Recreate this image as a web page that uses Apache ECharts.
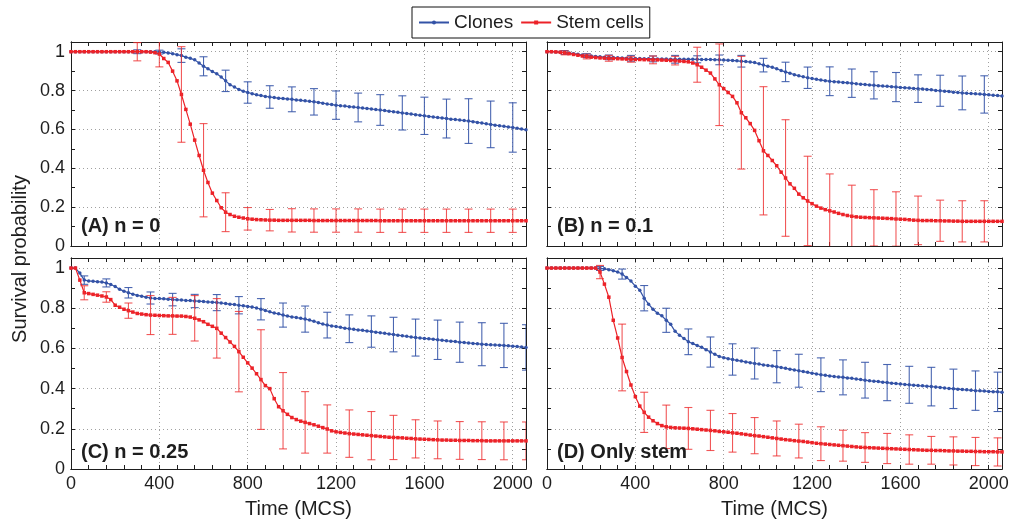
<!DOCTYPE html>
<html>
<head>
<meta charset="utf-8">
<script src="https://cdn.jsdelivr.net/npm/echarts@6/dist/echarts.min.js"></script>
<style>html,body{margin:0;padding:0;background:#fff}#c{width:1012px;height:520px}</style>
</head>
<body>
<div id="c"></div>
<script>
// ---------------- DATA ----------------
const TIME = [
0,20,40,60,80,100,120,140,160,180,
200,220,240,260,280,300,320,340,360,380,
400,420,440,460,480,500,520,540,560,580,
600,620,640,660,680,700,720,740,760,780,
800,820,840,860,880,900,920,940,960,980,
1000,1020,1040,1060,1080,1100,1120,1140,1160,1180,
1200,1220,1240,1260,1280,1300,1320,1340,1360,1380,
1400,1420,1440,1460,1480,1500,1520,1540,1560,1580,
1600,1620,1640,1660,1680,1700,1720,1740,1760,1780,
1800,1820,1840,1860,1880,1900,1920,1940,1960,1980,
2000,2020,2040,2060];

const X_TICKS = [0,400,800,1200,1600,2000];
const Y_TICKS = [0,0.2,0.4,0.6,0.8,1];

// (A) n = 0
const A_CLONES = [
1,1,1,1,1,1,1,1,1,1,
1,1,1,1,1,1,1,1,1,1,
.998,.997,.994,.99,.985,.98,.972,.966,.958,.942,
.925,.912,.898,.886,.87,.85,.83,.818,.806,.797,
.79,.784,.778,.774,.77,.767,.764,.761,.759,.757,
.755,.752,.75,.747,.745,.742,.739,.735,.731,.728,
.725,.722,.72,.717,.715,.713,.71,.708,.705,.702,
.7,.697,.694,.691,.688,.685,.682,.679,.676,.673,
.67,.667,.664,.661,.659,.656,.653,.651,.648,.646,
.643,.64,.636,.633,.629,.626,.622,.619,.616,.613,
.61,.606,.602,.598];
const A_STEM = [
1,1,1,1,1,1,1,1,1,1,
1,1,1,1,1,1,1,1,.998,.995,
.988,.965,.945,.9,.85,.78,.703,.627,.545,.466,
.39,.327,.272,.234,.197,.174,.162,.153,.148,.144,
.14,.138,.136,.135,.134,.133,.133,.132,.132,.132,
.132,.132,.132,.132,.132,.131,.131,.131,.131,.131,
.131,.131,.131,.131,.131,.131,.131,.131,.131,.131,
.13,.13,.13,.13,.13,.13,.13,.13,.13,.13,
.13,.13,.13,.13,.13,.13,.13,.13,.13,.13,
.13,.13,.13,.13,.13,.13,.13,.13,.13,.13,
.13,.13,.13,.13];
const A_ERR_X = [0,100,200,300,400,500,600,700,800,900,1000,1100,1200,1300,1400,1500,1600,1700,1800,1900,2000];
const A_CLONES_ERR = [0,0,0,.01,.01,.035,.049,.055,.055,.058,.064,.068,.073,.074,.079,.088,.096,.1,.115,.12,.127];
const A_STEM_ERR = [0,0,0,.047,.066,.246,.24,.1,.058,.055,.06,.06,.06,.06,.06,.06,.06,.06,.06,.06,.06];

// (B) n = 0.1
const B_CLONES = [
1,1,.999,.998,.996,.993,.99,.987,.983,.98,
.978,.976,.974,.972,.971,.97,.969,.968,.967,.966,
.965,.965,.964,.964,.963,.963,.962,.962,.961,.961,
.961,.961,.961,.961,.961,.96,.96,.96,.959,.958,
.957,.956,.955,.953,.951,.949,.947,.944,.938,.931,
.925,.92,.912,.903,.896,.889,.882,.876,.871,.866,
.862,.858,.854,.851,.848,.846,.844,.842,.84,.838,
.835,.833,.831,.829,.827,.825,.823,.822,.82,.818,
.816,.815,.813,.811,.81,.808,.806,.804,.801,.799,
.797,.795,.792,.79,.788,.786,.785,.783,.782,.78,
.778,.776,.774,.772];
const B_STEM = [
1,1,.999,.997,.994,.99,.986,.982,.978,.975,
.972,.97,.968,.967,.966,.965,.964,.963,.962,.961,
.96,.96,.959,.959,.958,.958,.957,.956,.955,.954,
.952,.95,.948,.942,.933,.92,.905,.89,.86,.83,
.81,.79,.77,.737,.686,.66,.63,.595,.542,.49,
.466,.44,.413,.38,.35,.32,.297,.267,.248,.232,
.218,.205,.195,.187,.181,.175,.168,.162,.157,.153,
.15,.148,.147,.146,.145,.144,.143,.142,.141,.139,
.138,.137,.135,.133,.132,.131,.131,.131,.13,.13,
.129,.129,.128,.128,.127,.127,.127,.127,.127,.127,
.127,.127,.127,.127];
const B_ERR_X = [80,180,280,380,480,580,680,780,880,980,1080,1180,1280,1380,1480,1580,1680,1780,1880,1980];
const B_CLONES_ERR = [.01,.01,.012,.015,.015,.02,.018,.025,.03,.035,.05,.055,.074,.073,.07,.075,.071,.08,.087,.096];
const B_STEM_ERR = [.01,.012,.015,.015,.02,.022,.09,.21,.29,.33,.3,.23,.19,.16,.145,.14,.125,.106,.106,.106];

// (C) n = 0.25
const C_CLONES = [
1,1,.975,.94,.936,.934,.932,.93,.926,.918,
.908,.894,.885,.877,.87,.864,.86,.855,.851,.849,
.848,.847,.845,.843,.842,.841,.839,.838,.836,.835,
.833,.831,.83,.828,.826,.823,.82,.818,.815,.812,
.809,.806,.801,.795,.789,.782,.776,.772,.766,.761,
.757,.754,.75,.746,.741,.735,.728,.721,.716,.712,
.709,.705,.701,.698,.695,.692,.69,.687,.684,.681,
.678,.675,.672,.669,.666,.663,.66,.657,.654,.652,
.65,.648,.646,.643,.641,.638,.636,.634,.631,.629,
.627,.625,.623,.621,.619,.618,.617,.616,.615,.613,
.611,.609,.607,.605];
const C_STEM = [
1,1,.94,.877,.873,.869,.865,.861,.856,.843,
.815,.805,.795,.788,.781,.774,.771,.768,.766,.765,
.764,.763,.762,.762,.761,.761,.759,.756,.75,.742,
.733,.72,.71,.70,.676,.654,.632,.61,.584,.556,
.528,.502,.474,.445,.415,.40,.35,.31,.29,.272,
.256,.246,.238,.232,.226,.22,.213,.206,.199,.19,
.185,.182,.179,.176,.174,.172,.17,.168,.166,.164,
.162,.16,.158,.157,.156,.155,.153,.152,.15,.149,
.148,.147,.146,.145,.144,.144,.143,.143,.142,.142,
.142,.141,.141,.141,.14,.14,.14,.14,.14,.14,
.14,.14,.14,.14];
const C_ERR_X = [60,160,260,360,460,560,660,760,860,960,1060,1160,1260,1360,1460,1560,1660,1760,1860,1960,2060];
const C_CLONES_ERR = [.021,.02,.026,.03,.031,.033,.04,.043,.053,.06,.065,.064,.069,.078,.086,.092,.098,.1,.107,.11,.113];
const C_STEM_ERR = [.035,.026,.038,.097,.092,.113,.148,.2,.248,.19,.153,.12,.118,.12,.11,.095,.094,.094,.094,.094,.094];

// (D) Only stem
const D_CLONES = [
1,1,1,1,1,1,1,1,1,1,
1,1,.998,.996,.992,.987,.98,.97,.953,.935,
.91,.89,.85,.82,.795,.775,.762,.74,.72,.685,
.666,.65,.633,.624,.615,.606,.594,.582,.571,.56,
.554,.549,.545,.541,.537,.533,.529,.525,.522,.518,
.515,.512,.509,.505,.501,.497,.493,.489,.485,.481,
.477,.473,.469,.466,.463,.46,.458,.456,.453,.451,
.448,.445,.442,.439,.437,.435,.432,.43,.427,.425,
.423,.421,.419,.417,.415,.414,.412,.41,.408,.406,
.403,.401,.399,.397,.395,.394,.392,.39,.389,.388,
.386,.385,.384,.382];
const D_STEM = [
1,1,1,1,1,1,1,1,1,1,
1,1,.98,.92,.855,.74,.652,.555,.485,.418,
.36,.313,.282,.258,.24,.226,.216,.21,.207,.205,
.204,.203,.202,.2,.198,.196,.194,.192,.19,.187,
.185,.183,.18,.178,.175,.172,.169,.166,.164,.161,
.158,.155,.152,.149,.146,.144,.141,.139,.137,.134,
.131,.128,.126,.124,.122,.12,.118,.116,.114,.112,
.11,.108,.107,.106,.105,.104,.103,.102,.101,.1,
.099,.098,.097,.096,.095,.094,.093,.093,.092,.092,
.091,.09,.09,.089,.089,.088,.088,.087,.087,.086,
.086,.086,.085,.085];
const D_ERR_X = [40,140,240,340,440,540,640,740,840,940,1040,1140,1240,1340,1440,1540,1640,1740,1840,1940,2040];
const D_CLONES_ERR = [0,0,.01,.025,.063,.06,.064,.075,.078,.077,.08,.082,.084,.087,.089,.09,.092,.096,.098,.098,.098];
const D_STEM_ERR = [0,0,.033,.166,.1,.108,.104,.1,.096,.09,.087,.084,.084,.077,.074,.075,.073,.069,.07,.07,.07];

const SERIES_NAMES = ['Clones', 'Stem cells'];
const PANEL_LABELS = ['(A) n = 0', '(B) n = 0.1', '(C) n = 0.25', '(D) Only stem'];
const X_NAME = 'Time (MCS)';
const Y_NAME = 'Survival probability';

// ---------------- LAYOUT / STYLE ----------------
const FONT = '"Liberation Sans", Arial, Helvetica, sans-serif';
const INK = '#1e1e1e';
const BLUE = '#3352a6';
const RED = '#ec2228';
const X_MAX = 2060, Y_MAX = 1.05;

const panels = [
  {grid:{left:71, top:42, width:455, height:204}, c:A_CLONES, s:A_STEM, ex:A_ERR_X, ce:A_CLONES_ERR, se:A_STEM_ERR, showX:false, showY:true},
  {grid:{left:547, top:42, width:455, height:204}, c:B_CLONES, s:B_STEM, ex:B_ERR_X, ce:B_CLONES_ERR, se:B_STEM_ERR, showX:false, showY:false},
  {grid:{left:71, top:258, width:455, height:214}, c:C_CLONES, s:C_STEM, ex:C_ERR_X, ce:C_CLONES_ERR, se:C_STEM_ERR, showX:true, showY:true},
  {grid:{left:547, top:258, width:455, height:214}, c:D_CLONES, s:D_STEM, ex:D_ERR_X, ce:D_CLONES_ERR, se:D_STEM_ERR, showX:true, showY:false}
];

const grids = [], xAxes = [], yAxes = [], series = [], graphics = [];
const lineAx = {show:true, onZero:false, lineStyle:{color:INK, width:1}};
const fmtX = v => (X_TICKS.indexOf(v) >= 0 ? String(v) : '');
const fmtY = v => {
  const r = Math.round(v * 10) / 10;
  return Y_TICKS.indexOf(r) >= 0 ? String(r) : '';
};

function errRenderer(color, opacity) {
  return function (params, api) {
    const x = api.value(0), c = api.value(1), e = api.value(2);
    if (!e) return null;
    const t = api.coord([x, c + e]);
    const b = api.coord([x, c - e]);
    const hw = 4;
    const st = {stroke: color, lineWidth: 1.1, opacity: opacity};
    return {type:'group', children:[
      {type:'line', shape:{x1:t[0], y1:t[1], x2:b[0], y2:b[1]}, style:st},
      {type:'line', shape:{x1:t[0]-hw, y1:t[1], x2:t[0]+hw, y2:t[1]}, style:st},
      {type:'line', shape:{x1:b[0]-hw, y1:b[1], x2:b[0]+hw, y2:b[1]}, style:st}
    ]};
  };
}

panels.forEach((p, i) => {
  grids.push(Object.assign({show:true, borderWidth:0, backgroundColor:'#fff'}, p.grid));
  // main x axis: labels + dotted grid
  xAxes.push({type:'value', gridIndex:i, position:'bottom', min:0, max:X_MAX, interval:X_TICKS[1]-X_TICKS[0],
    axisLine:lineAx, axisTick:{show:false},
    axisLabel:{show:p.showX, showMaxLabel:false, formatter:fmtX, fontSize:18, color:INK, fontFamily:FONT, margin:6},
    splitLine:{show:true, lineStyle:{color:'#a0a0a0', width:1, type:[1,3]}},
    name: p.showX ? X_NAME : '', nameLocation:'middle', nameGap:30,
    nameTextStyle:{fontSize:20, color:INK, fontFamily:FONT}});
  // tick axes bottom & top
  ['bottom','top'].forEach(pos => xAxes.push({type:'value', gridIndex:i, position:pos, min:0, max:X_MAX, interval:80,
    axisLine:lineAx, axisTick:{show:true, inside:true, length:4, lineStyle:{color:INK}},
    axisLabel:{show:false}, splitLine:{show:false}}));
  yAxes.push({type:'value', gridIndex:i, position:'left', min:0, max:Y_MAX, interval:Y_TICKS[1]-Y_TICKS[0],
    axisLine:lineAx, axisTick:{show:false},
    axisLabel:{show:p.showY, showMaxLabel:false, formatter:fmtY, fontSize:18, color:INK, fontFamily:FONT, margin:6},
    splitLine:{show:true, lineStyle:{color:'#a0a0a0', width:1, type:[1,3]}}});
  ['left','right'].forEach(pos => yAxes.push({type:'value', gridIndex:i, position:pos, min:0, max:Y_MAX, interval:0.1,
    axisLine:lineAx, axisTick:{show:true, inside:true, length:4, lineStyle:{color:INK}},
    axisLabel:{show:false}, splitLine:{show:false}}));

  const xi = i*3, yi = i*3;
  series.push({type:'line', name:SERIES_NAMES[0], xAxisIndex:xi, yAxisIndex:yi,
    data: TIME.map((t,k)=>[t, p.c[k]]), color:BLUE, symbol:'circle', symbolSize:3.5, showSymbol:true,
    lineStyle:{width:1.2, color:BLUE}, itemStyle:{color:BLUE}, z:2});
  series.push({type:'custom', name:'clones-err', xAxisIndex:xi, yAxisIndex:yi, clip:true, z:3,
    data: p.ex.map((x,k)=>[x, p.c[TIME.indexOf(x)], p.ce[k]]), encode:{x:0, y:1},
    renderItem: errRenderer('#3655a8', 0.9)});
  series.push({type:'line', name:SERIES_NAMES[1], xAxisIndex:xi, yAxisIndex:yi,
    data: TIME.map((t,k)=>[t, p.s[k]]), color:RED, symbol:'rect', symbolSize:3.5, showSymbol:true,
    lineStyle:{width:1.2, color:RED}, itemStyle:{color:RED}, z:4});
  series.push({type:'custom', name:'stem-err', xAxisIndex:xi, yAxisIndex:yi, clip:true, z:5,
    data: p.ex.map((x,k)=>[x, p.s[TIME.indexOf(x)], p.se[k]]), encode:{x:0, y:1},
    renderItem: errRenderer('#ee2e30', 0.8)});

  graphics.push({type:'text', left:p.grid.left + 10, top:p.grid.top + p.grid.height - 30, z:100,
    style:{text:PANEL_LABELS[i], font:'bold 20px ' + FONT, fill:INK}});
});

graphics.push({type:'text', x:20, y:259, rotation:Math.PI/2, z:100,
  style:{text:Y_NAME, font:'20px ' + FONT, fill:INK, textAlign:'center', textVerticalAlign:'middle'}});

const chart = echarts.init(document.getElementById('c'), null, {renderer:'canvas'});
chart.setOption({
  animation:false,
  backgroundColor:'#fff',
  legend:{data:SERIES_NAMES, left:412, top:7, orient:'horizontal', itemWidth:30, itemHeight:5, itemGap:7,
    padding:[6,6], borderColor:'#111', borderWidth:1, backgroundColor:'#fff', selectedMode:false,
    textStyle:{fontSize:19, color:INK, fontFamily:FONT}},
  grid:grids, xAxis:xAxes, yAxis:yAxes, series:series, graphic:graphics
});
</script>
</body>
</html>
